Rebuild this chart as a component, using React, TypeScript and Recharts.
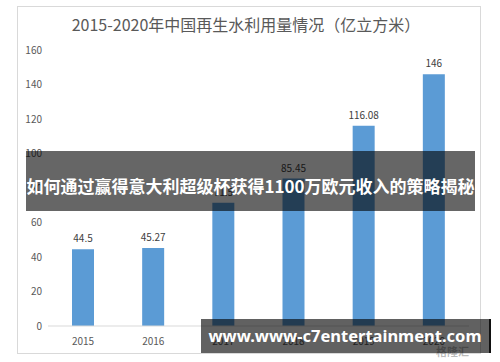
import { BarChart, Bar, XAxis, YAxis, LabelList } from "recharts";

const years = ["2015", "2016", "2017", "2018", "2019", "2020"];
const volumes = [44.5, 45.27, 71.5, 85.45, 116.08, 146];
const yTicks = [0, 20, 40, 60, 80, 100, 120, 140, 160];

const TITLE = "2015-2020年中国再生水利用量情况（亿立方米）";
const BANNER = "如何通过赢得意大利超级杯获得1100万欧元收入的策略揭秘";
const WATERMARK = "www.www-c7entertainment.com";

const BAR_COLOR = "#5b9bd5";
const TEXT_GRAY = "#595959";
const FONT = "'Noto Sans CJK SC', 'Noto Sans', sans-serif";

const data = years.map((year, i) => ({ year, value: volumes[i] }));

export default function App() {
  return (
    <div
      style={{
        position: "absolute",
        left: 0,
        top: 0,
        width: 500,
        height: 362,
        background: "#fff",
        overflow: "hidden",
        fontFamily: FONT,
      }}
    >
      {/* chart frame */}
      <div
        style={{
          position: "absolute",
          left: 17,
          top: 6,
          width: 464,
          height: 348,
          border: "1px solid #d9d9d9",
          boxSizing: "border-box",
        }}
      />
      <div
        style={{
          position: "absolute",
          left: 0,
          top: 14,
          width: 492,
          textAlign: "center",
          fontSize: 16,
          color: TEXT_GRAY,
          lineHeight: "20px",
        }}
      >
        {TITLE}
      </div>

      <div style={{ position: "absolute", left: 0, top: 0 }}>
        <BarChart
          width={500}
          height={362}
          data={data}
          margin={{ top: 50, right: 31, left: 15, bottom: 6 }}
        >
          <XAxis
            dataKey="year"
            axisLine={{ stroke: "#d9d9d9" }}
            tickLine={false}
            tick={{ fontSize: 10, fill: TEXT_GRAY, fontFamily: FONT }}
            height={30}
            tickMargin={6}
          />
          <YAxis
            domain={[0, 160]}
            ticks={yTicks}
            width={33}
            axisLine={false}
            tickLine={false}
            tick={{ fontSize: 10, fill: TEXT_GRAY, fontFamily: FONT }}
            tickMargin={0}
          />
          <Bar dataKey="value" fill={BAR_COLOR} barSize={22} isAnimationActive={false}>
            <LabelList
              dataKey="value"
              position="top"
              offset={7}
              style={{ fontSize: 10, fill: "#404040", fontFamily: FONT }}
            />
          </Bar>
        </BarChart>
      </div>

      {/* overlay banner */}
      <div
        style={{
          position: "absolute",
          left: 26,
          top: 151,
          width: 449,
          height: 60,
          background: "rgba(0,0,0,0.6)",
          color: "#fff",
          fontWeight: 700,
          fontSize: 17,
          lineHeight: "20px",
          paddingTop: 25,
          boxSizing: "border-box",
          textAlign: "center",
          whiteSpace: "nowrap",
        }}
      >
        {BANNER}
      </div>

      <div
        style={{
          position: "absolute",
          left: 436,
          top: 343,
          fontSize: 11,
          color: "rgba(120,120,120,0.5)",
          fontWeight: 700,
        }}
      >
        格隆汇
      </div>

      {/* watermark */}
      <div
        style={{
          position: "absolute",
          left: 201,
          top: 319,
          width: 290,
          height: 34,
          background: "rgba(0,0,0,0.62)",
          borderRight: "2px solid #111",
          boxSizing: "border-box",
          color: "#fff",
          fontWeight: 700,
          fontSize: 16.5,
          lineHeight: "34px",
          textAlign: "center",
          whiteSpace: "nowrap",
          fontFamily: "'Noto Sans', 'Open Sans', sans-serif",
        }}
      >
        {WATERMARK}
      </div>
    </div>
  );
}
